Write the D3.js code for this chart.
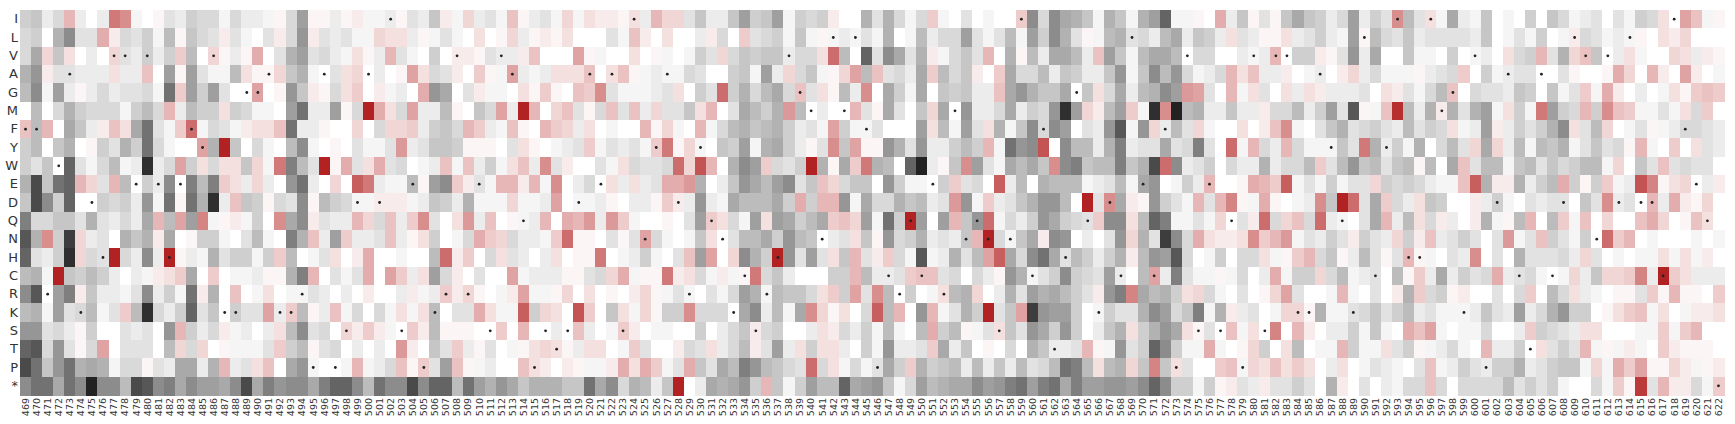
<!DOCTYPE html>
<html>
<head>
<meta charset="utf-8">
<script src="https://d3js.org/d3.v7.min.js"></script>
<style>
  html, body { margin: 0; padding: 0; background: #fff; }
  svg { display: block; }
  .tick text { font-family: "DejaVu Sans", sans-serif; fill: #333; }
</style>
</head>
<body>
<script>
// residues on the y axis, top to bottom
var residues = ["I","L","V","A","G","M","F","Y","W","E","D","Q","N","H","C","R","K","S","T","P","*"];

// first position on the x axis is 469, last is 622
var positions = d3.range(469, 623).map(String);

// wild type residue of each position (gets the dot)
var wildType = ("FFRWAKDHVVEVEHEFYVKKGGAKK" + "RPAPSDADISEPKRVRESV" + "AQPSTSDAEASINYADRYQ" +
  "NKCSRHVGMNLMLFPCRQC" + "ERMNQNSNICFTHGQKDCL" + "ECFPVSESQPVSVVKKAYQ" + "KLCYIHHIMGKVPDACTA" + "CDLVNVDLDDCIFEQ*").split("");

// score per position. negative = grey, positive = red
var rowI = [[-5,-6,-2,-4,7,-2,0,-2,13,11,-1,0,1,-3,-2,-5,-4,-4,-1,-4,-2,-2,-1,1,-4],
  [-10,1,1,-2,1,2,-1,-1,-2,1,-3,-2,-6,2,-1,4,-2,-3,-1],
  [6,1,-2,-3,-1,4,-1,3,2,2,1,3,-2,7,4,4,-3,-6,-2],
  [-2,-6,-10,-5,-6,-10,-1,-5,-4,-5,2,0,0,-8,-3,-8,-4,-1,-4],
  [5,-1,0,-3,0,-1,0,0,5,-12,-4,-12,-9,-8,-6,-1,-8,-6,-1],
  [-8,-10,-15,-1,-1,1,0,8,-2,-6,1,-3,1,-6,-9,-6,-5,-2,-4],
  [-10,-2,-5,-3,11,-7,-3,3,-1,-9,-2,-1,-6,0,-1,0,-5,0],
  [-6,-4,-1,-2,-3,0,-3,-1,-5,-4,3,0,9,6,-1,1]].flat();
var rowL = [[-4,-5,0,-8,-12,-3,-3,8,2,-4,-3,-5,-1,-7,1,-6,-4,-3,2,-3,-1,0,-3,2,-4],
  [-11,2,-3,-2,-3,-1,-1,4,3,3,-2,1,-1,-3,-1,0,3,0,1],
  [4,-2,1,2,1,3,0,0,0,-3,-1,6,2,0,3,0,0,-2,2],
  [-4,0,5,-3,-4,-5,-1,-6,-1,1,-1,-2,-1,-3,-1,-8,0,-1,-7],
  [-2,-4,-4,-10,-3,-1,-3,-7,-1,-10,-5,-12,-8,-3,1,-1,-7,-8,-3],
  [-4,-2,-7,-9,-2,-6,-5,-2,3,-3,-2,1,1,3,-2,-3,-5,-2,-1],
  [-10,1,-7,-4,-3,-6,-2,-3,-3,-3,-3,-2,-6,0,-1,-3,-1,-5],
  [0,-1,2,-4,-3,-1,-2,-1,1,0,3,2,4,0,0,0]].flat();
var rowV = [[-4,-9,4,-6,3,0,-2,0,4,-3,-2,-5,-2,-5,5,-7,0,4,1,-2,1,8,0,-3,-8],
  [-10,-3,-4,-2,-1,3,1,-2,7,-3,-1,0,-5,0,2,2,1,-3,-2],
  [-2,2,6,0,0,0,9,1,-1,0,0,3,0,1,-1,0,-1,-5,-3],
  [4,-4,-6,-5,-6,-6,-2,-4,-4,3,14,-7,0,-15,-3,-12,-9,-3,-8],
  [2,-1,-4,-6,-3,7,0,-8,1,-7,-2,-9,-9,-7,-2,6,-10,-6,-1],
  [-7,-9,-9,-7,0,-4,-4,0,0,-2,-1,-2,7,0,-5,-5,2,1,-3],
  [-11,-2,-9,0,0,-6,-1,-1,0,-5,0,-1,-2,0,3,-4,-5,7],
  [-3,-8,4,6,-6,0,-2,3,-1,0,0,4,3,-2,2,1]].flat();
var rowA = [[-8,-11,2,-3,-3,-2,-2,-2,3,-2,-2,6,0,-10,1,-10,-3,-1,-1,-7,3,1,1,4,-6],
  [-8,-1,0,-3,3,4,0,-2,0,1,9,3,-4,-3,2,0,5,1,-1],
  [9,-2,-1,-2,3,3,3,6,0,3,6,1,-1,-2,-1,-1,-4,-3,0],
  [0,-5,-6,-1,-10,-2,4,-4,-6,-1,1,4,9,-7,6,-3,-4,-2,-9],
  [5,-7,-4,-6,2,0,5,-9,-4,-4,-7,-2,-6,-5,-2,-2,-6,-11,-1],
  [-6,-12,-7,-11,-4,-1,-2,-4,7,3,6,-2,-2,2,0,-1,-2,0,2],
  [4,-2,-4,-1,-1,-1,1,-2,-3,-4,5,0,-5,-1,-2,-3,-3,0],
  [0,-3,1,0,0,1,8,4,0,7,2,0,9,2,0,-1]].flat();
var rowG = [[-7,-12,-1,-10,-2,1,-2,-4,-2,-3,-3,-4,-1,-14,5,-10,-5,-10,-3,0,0,9,0,1,-11],
  [-6,2,1,-4,3,5,0,2,-1,-2,0,8,-11,-9,0,-3,2,-1,-1],
  [0,3,1,5,1,0,6,5,11,-3,-1,-1,-1,-2,-3,3,0,-5,-3],
  [14,-5,-8,-4,-7,-9,-4,6,-3,3,1,-7,-2,11,0,-9,-5,-1,-9],
  [0,-6,-5,-6,-2,-2,6,-9,-11,-8,-6,-6,-9,0,-6,3,-4,-9,-2],
  [-7,-8,-12,-10,10,9,-3,0,7,-1,3,-3,0,3,-2,3,2,-2,-2],
  [-2,-3,0,3,2,-3,-1,-4,-7,6,0,-4,-3,-3,-2,-6,-5,0],
  [-6,-1,-3,5,-1,8,2,0,-2,0,-1,3,1,5,6,5]].flat();
var rowM = [[0,-7,0,-4,-8,-5,-4,-4,-4,-1,-5,-7,-4,7,-2,-7,-5,-5,3,-5,-4,-1,-1,0,-10],
  [-14,-2,-2,-10,1,-4,20,8,3,-4,9,-2,-2,-7,1,0,-6,-4,9],
  [-2,20,7,0,4,6,-3,1,-4,6,-3,6,-2,4,-3,-3,-6,3,7],
  [0,-3,-9,-7,-5,-8,10,-7,0,-2,0,0,7,-3,1,-9,-3,0,-6],
  [4,-9,0,-11,-2,-2,-4,-9,-2,-5,-4,-11,-19,-10,4,2,-7,-10,5],
  [-1,-19,11,-20,-7,-8,-2,-2,-6,-2,-2,2,-4,-4,-7,-2,-5,-10,-3],
  [-16,1,-1,6,19,-7,-2,-8,2,-8,-3,-8,-10,-1,3,-5,-1,13],
  [-10,-5,-4,7,-5,11,6,5,-1,-1,-3,-1,3,-4,5,0]].flat();
var rowF = [[6,-7,7,0,-9,-6,-2,2,6,3,-9,-14,-3,-1,5,14,-1,-4,-3,-1,2,3,3,6,-14],
  [-2,-2,1,0,0,4,0,-4,4,4,5,-2,-5,-6,-4,7,5,-2,-1],
  [6,1,0,7,5,4,-2,3,0,-1,0,0,7,1,4,-1,0,7,-1],
  [-4,-7,-8,-6,-7,-8,-5,-2,-3,-1,9,-5,-1,-1,-3,0,0,0,-10],
  [3,-7,-1,-10,-3,3,-8,-1,-6,-12,-4,-12,-10,0,-3,-2,-11,-16,-1],
  [-11,4,-2,-7,-3,4,-1,0,0,3,0,2,6,11,-1,0,-3,-6,-8],
  [-3,-4,-5,-3,-2,-7,-3,-5,-4,3,-1,-2,-10,2,-2,-5,-3,-5],
  [-8,-12,3,-3,-7,4,0,-1,-3,1,-1,-2,-4,-4,-3,-2]].flat();
var rowY = [[-5,-7,0,-6,-8,0,1,-5,-3,-8,-5,-14,-4,-1,0,0,9,-8,20,-6,0,-4,-1,0,-7],
  [-12,-1,0,1,0,-3,-1,-1,-3,10,-2,-3,-6,-6,-5,1,1,1,0],
  [-3,3,1,0,-1,-2,-3,5,-1,-3,-2,-3,-1,5,13,1,4,-1,0],
  [-6,-5,-10,-1,-8,-9,-5,-2,1,-3,11,-6,9,1,1,-11,-8,-3,-11],
  [-2,-2,-5,-7,-5,7,-1,-14,-11,-12,16,0,-12,-7,-7,-2,-8,-13,-2],
  [-3,-3,-9,-3,-4,-13,-3,0,14,-1,7,-4,-2,7,-4,-1,-1,-1,-6],
  [-3,13,-8,-2,-5,-1,-8,0,-4,-7,-3,4,-9,4,-2,-7,-1,-7],
  [-6,-8,-1,-3,-6,-3,-4,1,7,-1,0,5,0,3,-3,-2]].flat();
var rowW = [[-5,-3,-6,0,-15,-3,-1,-4,-7,-1,-2,-19,-2,-4,9,-5,3,-4,3,3,-6,4,-1,13,-13],
  [-7,-3,20,1,8,-3,3,8,-3,-4,0,-1,-2,6,-1,6,-2,-5,-1],
  [3,6,-2,11,-3,2,0,0,-3,-1,3,-4,-3,-3,-4,14,4,16,7],
  [0,-8,-12,-10,5,-4,-3,-5,20,-8,1,-9,5,13,-8,-7,0,-15,-20],
  [-2,1,-6,11,-10,-3,-1,-9,-7,-9,-6,11,-12,-13,-6,-7,-7,-13,-6],
  [-8,-17,14,-12,-2,-3,-5,0,-4,-2,-2,-8,-2,-4,-4,-7,5,-3,-7],
  [-11,-6,-7,-3,-6,-7,1,-7,0,-9,6,-3,-7,-7,-1,-6,-7,-3],
  [-6,-4,-5,-7,-7,-1,4,0,-6,-3,6,-3,-4,-3,-3,0]].flat();
var rowE = [[-8,-17,-6,-14,-15,7,4,-3,7,-7,0,-5,-2,-12,0,-13,-7,-13,5,3,-2,4,-2,0,-11],
  [-14,-2,0,4,0,15,13,-2,-1,-1,-7,1,-10,-12,5,2,-3,-1,7],
  [7,2,7,-1,11,0,-2,-4,0,3,-2,3,-2,-3,8,8,10,-8,0],
  [-2,-6,-11,-9,-7,-10,-12,-3,-6,6,4,-4,-6,-6,0,-11,-5,-1,-1],
  [0,-5,5,-3,-4,0,15,-2,-7,0,-8,-7,-7,-7,-1,-2,-3,-7,-1],
  [-9,-11,0,-1,-5,-2,7,0,0,1,8,7,5,15,-1,-3,-1,-5,-1],
  [-3,-3,4,-5,-4,-5,-4,-2,-1,-1,6,15,-8,2,2,-8,-2,-5],
  [-7,8,-5,1,-5,5,-1,-2,16,12,1,3,4,0,-2,2]].flat();
var rowD = [[-6,-17,-12,-5,-15,0,0,-5,-4,-5,-2,-11,-1,-14,1,-14,-8,-19,-2,6,-6,-5,1,-4,-3],
  [-12,1,-7,-5,-4,-1,-1,2,2,2,-1,-2,-6,-5,-2,-8,-1,-1,-1],
  [4,-1,-1,-2,9,0,-1,-1,-2,1,0,-2,-2,1,5,2,-2,-11,-2],
  [-1,-9,-7,-7,-7,-9,-5,8,-5,7,7,-11,-1,-9,-4,-4,-8,-6,-7],
  [-2,-3,10,-11,-1,5,-2,-3,-6,-8,-11,-11,-7,0,20,-3,11,-9,2],
  [1,-11,-5,-3,-1,7,-3,7,12,1,-1,8,1,0,-1,-2,11,-6,20],
  [14,-3,-9,5,-4,-2,3,-6,-5,0,0,2,-2,-5,-1,0,-3,-2],
  [-3,-3,0,-6,-3,11,-2,-3,0,7,-2,8,2,1,4,0]].flat();
var rowQ = [[-13,-4,-4,-6,-6,-3,-8,-3,-2,-4,-2,-9,7,-7,9,-10,12,-1,1,2,-1,-5,0,11,-9],
  [-12,2,-3,-2,-2,7,4,-4,6,-2,5,11,-3,0,3,10,-2,6,0],
  [1,-1,-2,7,0,8,7,10,-2,10,5,-1,0,0,1,0,-3,-10,5],
  [3,-4,-1,-10,3,-10,-9,-5,-7,-9,5,6,4,-10,-1,-14,-5,20,-10],
  [0,-10,7,-6,-11,14,-1,-4,-2,-5,-11,-9,-5,-4,-3,5,-12,-12,3],
  [-7,-15,-13,-1,-1,-3,-1,4,0,-3,2,14,-4,4,6,-4,14,-2,-1],
  [0,-3,-9,7,-2,-7,3,-4,2,-2,0,2,-8,-1,1,-7,7,0],
  [-7,5,-1,6,0,4,0,0,6,8,4,0,1,6,3,0]].flat();
var rowN = [[-16,-8,11,-5,-18,4,-2,-3,0,-8,-6,-8,2,-9,0,1,-5,-5,-1,0,-3,-7,-1,0,-13],
  [-8,6,-2,-10,5,-2,-2,-3,6,-2,1,3,-5,0,-1,-4,8,5,4],
  [-4,-2,-2,-1,5,14,1,1,0,-3,1,-3,9,-4,-1,0,-1,-6,3],
  [0,-3,-7,-7,-9,-5,-11,-7,-6,0,-2,-3,3,-6,1,-11,-4,-5,-8],
  [-2,-3,-2,-6,7,20,-4,-1,-6,-9,2,-12,-11,0,-2,0,-3,-11,4],
  [-8,-3,-18,-12,-4,8,3,2,2,3,11,5,7,10,-1,-3,-2,-5,-3],
  [2,-5,-3,-2,4,-5,2,6,-2,-3,-5,-3,0,-3,10,-1,-3,6],
  [-5,-3,-1,-5,0,14,5,7,0,-1,0,0,0,-1,0,-1]].flat();
var rowH = [[-15,-3,-2,-5,-19,4,-4,-3,20,-4,-2,-12,-2,20,1,-2,-1,-8,-3,-5,-5,-1,-5,5,-7],
  [0,-1,-3,3,0,2,8,0,0,-1,0,0,-7,14,2,5,0,-4,3],
  [-3,-2,0,-2,3,0,1,1,13,0,-1,-2,-5,-1,0,-3,6,-10,9],
  [0,4,-12,-8,-5,20,-11,-3,-10,-3,3,-6,7,-3,2,5,-4,-1,-16],
  [-1,-2,-8,-3,-7,9,15,-9,-4,-12,-14,-9,-3,-7,-5,-2,-5,-8,2],
  [-7,-11,-10,-16,-4,0,-1,-5,0,-4,-4,3,-1,1,5,7,-4,-6,1],
  [-2,-7,-3,1,-3,7,1,-1,0,-3,-2,11,0,-3,0,-8,-3,-3],
  [-3,-4,-2,4,-3,0,-1,0,-1,-1,3,-1,3,-1,2,0]].flat();
var rowC = [[-7,-8,-1,20,-6,-5,-7,-5,-2,0,-2,-1,2,3,5,-9,0,5,0,-1,-1,-2,1,1,-8],
  [-13,7,0,-3,-1,-3,8,0,9,5,-2,3,-10,-4,2,0,-3,0,0],
  [9,-1,-2,-2,-2,1,1,-3,-4,4,8,-1,1,1,13,2,3,-4,-1],
  [2,-1,1,13,-4,-6,-2,0,0,0,-5,-5,7,-7,-2,-2,-3,5,6],
  [6,-3,-4,0,-4,-2,1,-11,-8,-1,-3,-5,-12,-5,-4,-3,-10,-2,0],
  [-7,9,-2,-13,-3,-1,-1,1,-1,-4,0,-2,8,-1,-5,-5,4,-4,-7],
  [-1,-2,-3,0,-7,1,5,-2,-9,-2,-5,-3,-4,8,-2,-3,-4,-1],
  [0,-1,4,-2,-6,4,4,5,12,-2,20,5,3,-2,-2,-2]].flat();
var rowR = [[-12,-16,0,-10,-13,2,-6,-2,-2,-1,-3,-12,-2,-5,-1,-14,2,-8,0,6,0,-1,3,0,-1],
  [-1,-3,-2,0,-2,0,2,0,0,-2,2,-1,-2,5,2,4,1,0,-1],
  [2,9,-1,-1,1,4,0,3,0,1,0,2,4,1,-1,-3,-1,0,-3],
  [-1,-4,-10,-8,-1,-7,-6,-6,-4,3,5,-5,9,-3,11,-7,0,-5,0],
  [-1,3,-7,-8,4,0,-2,-8,-3,-10,-8,-9,-7,-5,-3,2,-11,-13,12],
  [-9,-7,-8,-5,3,4,-4,-1,0,-3,0,1,4,9,-3,0,0,-1,7],
  [-1,0,-3,0,2,-8,5,-4,-5,1,2,0,0,-3,0,-4,5,0],
  [-7,-4,3,-2,-1,0,1,1,-3,5,1,7,1,1,0,5]].flat();
var rowK = [[-7,-8,-1,-10,-3,-4,-7,-1,-3,5,-7,-19,-4,-2,-5,-15,-3,-6,0,-5,-3,-3,9,-2,5],
  [-7,1,-2,6,-1,-4,0,-4,-1,3,-1,3,-7,0,-3,-3,8,3,-1],
  [-1,15,-5,4,3,0,16,5,0,-6,3,-1,4,1,-5,-5,11,-4,-4],
  [-4,0,-9,-12,-2,-7,-1,-9,11,4,1,3,0,-4,15,-7,7,0,-11],
  [7,-1,-3,-8,-5,20,-3,-6,9,-18,-11,-10,-10,-5,0,-1,-5,-3,-3],
  [-8,-12,-10,-4,-6,-13,-1,-8,2,-2,-3,0,-1,4,4,1,-8,-1,-1],
  [-3,-4,-6,-3,-5,-7,-2,-3,-1,-1,-1,-2,-6,-3,-2,-10,-2,-4],
  [-8,-11,-5,-5,0,1,3,5,6,-1,3,0,-1,2,2,3]].flat();
var rowS = [[-11,-11,-3,-4,-2,1,-5,0,0,-3,-2,-3,0,-11,7,-5,-2,-4,2,-1,-2,0,-2,3,-7],
  [-12,-3,-4,0,4,2,5,2,-1,0,5,2,-7,1,1,1,0,0,5],
  [0,7,0,0,-2,0,6,-2,0,-1,5,2,0,-1,-1,0,0,-5,0],
  [-2,-4,-6,2,-4,-5,0,0,-2,3,2,-4,-2,-5,-1,-7,-1,0,-7],
  [8,-5,-7,1,-1,-3,3,-6,-3,-11,-9,-5,-11,-5,0,-2,-6,-8,3],
  [-5,-8,-11,-9,3,1,-3,0,6,-1,3,0,12,0,7,2,0,-2,-2],
  [-5,-1,-6,-1,0,8,6,9,-1,0,-1,-1,-4,0,0,-2,5,-5],
  [-4,-3,-2,3,3,0,0,0,-1,-1,5,-1,5,7,0,0]].flat();
var rowT = [[-15,-16,-4,-11,-3,1,-4,9,0,-3,-3,-3,0,-7,4,-4,4,0,1,-1,-1,-1,-3,5,-5],
  [-7,1,-3,-4,0,-2,0,-2,0,10,2,0,-6,-3,5,-2,1,-3,0],
  [-1,1,3,4,3,1,-2,3,3,0,-1,5,-3,0,0,2,-4,-3,3],
  [-2,-4,-7,2,-3,-10,-2,3,-5,3,3,-2,0,-5,-1,-11,-2,-2,-3],
  [5,-9,-2,-6,0,1,0,-4,0,-8,-6,-2,-2,-3,7,1,-1,-11,-3],
  [-5,-15,-12,-5,-1,-1,8,-1,0,1,4,-5,0,3,-7,0,-1,-1,7],
  [-5,-1,-1,3,-3,-5,1,-1,-2,-4,-1,0,7,-2,-2,-5,0,3],
  [-3,-5,-3,7,-1,1,-1,2,-1,0,5,2,1,1,1,0]].flat();
var rowP = [[-17,-14,-6,-11,-14,-8,-9,-8,-1,-4,-4,1,-3,-2,-9,-9,-2,-8,7,-2,-3,3,6,0,-9],
  [-11,-1,0,0,-1,7,-1,-2,-4,6,1,5,-3,-10,6,1,-1,-2,0],
  [0,6,3,2,0,2,1,-1,-1,2,8,3,8,5,-1,-3,8,-6,-3],
  [-9,-7,-13,-11,-7,-6,-4,-3,14,-4,3,-1,-4,-1,-3,-9,-5,5,-8],
  [-5,-6,-7,-2,-7,-2,-6,-2,-7,-3,-4,-7,-14,-13,-7,3,-7,-8,4],
  [-6,12,-6,3,-3,0,0,5,6,-1,4,3,6,3,5,3,0,-2,3],
  [0,-1,-3,-2,-1,0,-3,6,-1,-2,-5,-3,-2,-5,-5,-8,-2,-3],
  [-5,-6,-6,-1,4,-1,8,5,9,1,1,4,2,-1,1,2]].flat();
var rowStop = [[-12,-14,-14,-9,-14,-12,-20,-12,-12,-7,-17,-16,-12,-13,-9,-12,-10,-10,-9,-12,-17,-9,-13,-11,-12],
  [-12,-9,-13,-15,-15,-12,-7,-14,-12,-12,-17,-12,-15,-15,-7,-14,-10,-8,-11],
  [-9,-6,-8,-8,-8,-6,-6,-14,-9,-12,-4,-8,-7,-2,-6,20,0,-2,-9],
  [-8,-9,-11,-5,7,-6,-1,-5,-10,-7,-7,-15,-9,-10,-11,-6,-1,-4,-10],
  [-7,-8,-9,-9,-12,-10,-11,-13,-14,-10,-13,-14,-9,-13,-10,-10,-11,-11,-10],
  [-12,-15,-12,-5,-5,-1,-5,1,2,-3,-2,2,-3,-3,-5,-3,0,-8,2],
  [0,-3,0,-2,-1,-4,-4,6,-4,0,-4,-4,-4,-4,-7,-3,-5,-3],
  [-5,-1,0,0,-4,-1,5,1,18,-3,7,2,2,-4,-1,5]].flat();

var rows = [rowI,rowL,rowV,rowA,rowG,rowM,rowF,rowY,rowW,rowE,rowD,rowQ,rowN,rowH,rowC,rowR,rowK,rowS,rowT,rowP,rowStop];

var width = 1735, height = 424;
var margin = { top: 10, right: 11, bottom: 29, left: 20 };

var x = d3.scaleBand().domain(positions).range([margin.left, width - margin.right]);
var y = d3.scaleBand().domain(residues).range([margin.top, height - margin.bottom]);

var color = d3.scaleLinear()
  .domain([-20, -12, 0, 12, 20])
  .range(["#222222", "#8c8c8c", "#ffffff", "#d58484", "#b22222"]);

var svg = d3.select("body").append("svg")
  .attr("width", width)
  .attr("height", height);

var cells = [];
rows.forEach(function (r, i) {
  r.forEach(function (v, j) {
    cells.push({ residue: residues[i], pos: positions[j], value: v });
  });
});

svg.append("g").attr("class", "cells")
  .selectAll("rect")
  .data(cells)
  .enter().append("rect")
  .attr("x", function (d) { return x(d.pos); })
  .attr("y", function (d) { return y(d.residue); })
  .attr("width", x.bandwidth() + 0.5)
  .attr("height", y.bandwidth() + 0.5)
  .attr("shape-rendering", "crispEdges")
  .style("fill", function (d) { return color(d.value); });

// dot marks the wild type residue
svg.append("g").attr("class", "dots")
  .selectAll("circle")
  .data(positions)
  .enter().append("circle")
  .attr("cx", function (d) { return x(d) + x.bandwidth() / 2; })
  .attr("cy", function (d, i) { return y(wildType[i]) + y.bandwidth() / 2; })
  .attr("r", 1.4)
  .style("fill", "#222");

var xAxis = svg.append("g")
  .attr("transform", "translate(0," + (height - margin.bottom) + ")")
  .call(d3.axisBottom(x).tickSize(0).tickPadding(3));
xAxis.select(".domain").remove();
xAxis.selectAll("text")
  .style("font-size", "9.5px")
  .attr("transform", "rotate(-90)")
  .attr("text-anchor", "end")
  .attr("x", -3)
  .attr("y", 0)
  .attr("dy", "0.35em");

var yAxis = svg.append("g")
  .attr("transform", "translate(" + margin.left + ",0)")
  .call(d3.axisLeft(y).tickSize(0).tickPadding(2));
yAxis.select(".domain").remove();
yAxis.selectAll("text").style("font-size", "13px");
</script>
</body>
</html>
